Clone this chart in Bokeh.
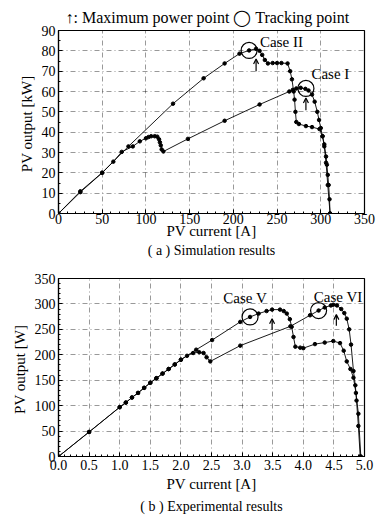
from bokeh.plotting import figure
from bokeh.layouts import column
from bokeh.models import Title, Arrow, OpenHead, Range1d, SingleIntervalTicker, NumeralTickFormatter, Label
from bokeh.embed import file_html
from bokeh.resources import INLINE

# ---------------- data: (a) simulation ----------------
sim_case2_i = [0, 25, 50, 80, 131, 166, 190, 207, 218, 226, 230, 233, 236, 239.5, 245, 250, 255, 262,
               265, 267, 269, 270, 271, 272, 275, 283, 290, 298.5, 302, 304, 306, 307, 308, 309, 310, 310.6]
sim_case2_p = [0, 10.9, 20.1, 33, 54, 66.5, 73.8, 78.6, 80.2, 81, 80, 78, 75.5, 73.8, 74, 74, 74, 73.8,
               70, 66, 60, 56, 50, 45, 44, 43, 42.5, 41.5, 38, 34, 28, 24, 19, 14, 7, 0]

sim_case1_i = [0, 25, 50, 62.7, 72.3, 85, 93, 100, 103, 106, 110, 113, 115, 116, 117, 118, 120, 148, 190, 230,
               264, 268, 272, 277, 282.4, 286, 290, 293, 296, 298, 300, 302, 304, 306, 308, 310.6]
sim_case1_p = [0, 10.5, 20, 25.5, 30.3, 33, 35.5, 37, 37.6, 38, 38, 37.8, 36.5, 35, 33.5, 31.5, 30.5, 36.7,
               45.6, 53.6, 60, 60.8, 61.5, 61.8, 61.3, 60.5, 58.5, 55, 50, 46, 42, 38, 33, 25, 14, 0]

sim_track_i = [218, 283]
sim_track_p = [80.2, 61.5]
sim_mpp_i = [226, 283]
sim_mpp_p = [81, 61.8]
sim_case_labels = ["Case II", "Case I"]
sim_label_i = [255, 311]
sim_label_p = [84.5, 68.5]

# ---------------- data: (b) experiment ----------------
exp_case5_i = [0, 0.5, 1.0, 1.1, 1.2, 1.3, 1.4, 1.5, 1.6, 1.7, 1.8, 1.9, 2.0, 2.25, 2.51, 2.97, 3.13, 3.27,
               3.4, 3.49, 3.62, 3.68, 3.73, 3.78, 3.81, 3.84, 3.87, 3.95, 4.0, 4.19, 4.35, 4.49, 4.6, 4.66,
               4.71, 4.77, 4.82, 4.86, 4.9, 4.94]
exp_case5_p = [0, 48.4, 96.9, 106, 116, 125, 135, 145, 154, 163, 172, 181, 190.5, 210, 229, 264.7, 274.4, 281,
               286, 288.8, 288.8, 286, 281, 270, 255, 235, 216, 214, 213, 221, 224, 227, 223, 208,
               187, 172, 155, 125, 84, 0]

exp_case6_i = [0, 0.5, 1.0, 1.1, 1.2, 1.3, 1.4, 1.5, 1.6, 1.7, 1.8, 1.9, 2.0, 2.1, 2.2, 2.3, 2.37, 2.42, 2.48,
               2.97, 3.79, 4.11, 4.25, 4.35, 4.45, 4.49, 4.55, 4.62, 4.67, 4.71, 4.75, 4.78, 4.82, 4.85,
               4.87, 4.9, 4.93]
exp_case6_p = [0, 48, 97, 106, 116, 125, 135, 145, 154, 163, 172, 181, 190, 198, 203.5, 205, 203.5, 195, 187,
               218, 256, 277.7, 287, 293, 297, 298.4, 297, 290, 282, 271, 250, 220, 168, 140,
               110, 60, 0]

exp_track_i = [3.13, 4.25]
exp_track_p = [274.4, 287]
exp_mpp_i = [3.49, 4.54]
exp_mpp_p = [288.8, 297]
exp_case_labels = ["Case V", "Case VI"]
exp_label_i = [3.05, 4.57]
exp_label_p = [311, 314]

FONT = "Liberation Serif"


def style(p, xint, yint, xminor, yminor, xfmt=None, tick_standoff=2, label_standoff=0):
    p.xaxis.ticker = SingleIntervalTicker(interval=xint, num_minor_ticks=xminor)
    p.yaxis.ticker = SingleIntervalTicker(interval=yint, num_minor_ticks=yminor)
    if xfmt:
        p.xaxis.formatter = NumeralTickFormatter(format=xfmt)
    for ax in (p.xaxis[0], p.yaxis[0]):
        ax.major_label_text_font = FONT
        ax.major_label_text_font_size = "14px"
        ax.major_label_text_color = "black"
        ax.axis_label_text_font = FONT
        ax.axis_label_text_font_size = "15px"
        ax.axis_label_text_font_style = "normal"
        ax.axis_label_text_color = "black"
        ax.axis_line_color = "black"
        ax.axis_line_width = 1.2
        ax.major_tick_in = 4
        ax.major_tick_out = 0
        ax.minor_tick_in = 2
        ax.minor_tick_out = 0
        ax.major_tick_line_color = "black"
        ax.minor_tick_line_color = "black"
    p.xaxis.major_label_standoff = tick_standoff
    p.xaxis.axis_label_standoff = label_standoff
    p.yaxis.major_label_standoff = 3
    p.yaxis.axis_label_standoff = 4
    p.grid.grid_line_color = "black"
    p.grid.grid_line_alpha = 0.5
    p.grid.grid_line_width = 0.8
    p.grid.grid_line_dash = "5 3 1 3"
    p.outline_line_color = "black"
    p.outline_line_width = 1.2
    p.background_fill_color = "white"
    p.border_fill_color = "white"


def curve(p, xs, ys):
    p.line(xs, ys, line_color="black", line_width=0.9)
    p.scatter(xs, ys, marker="circle", size=3.5, fill_color="black", line_color="black")


def annotate(p, ti, tp, mi, mp, li, lp, labels, arrow_len, arrow_gap):
    p.scatter(ti, tp, marker="circle", size=16, fill_color=None, line_color="black", line_width=1.2)
    for x, y in zip(mi, mp):
        p.add_layout(Arrow(end=OpenHead(size=5, line_width=1.2, line_color="black"),
                           x_start=x, y_start=y - arrow_gap - arrow_len, x_end=x, y_end=y - arrow_gap,
                           line_width=1.2, line_color="black"))
    for x, y, t in zip(li, lp, labels):
        p.add_layout(Label(x=x, y=y, text=t, text_font=FONT, text_font_size="15px",
                           text_align="center", text_baseline="middle", text_color="black"))


def caption(text, standoff):
    return Title(text=text, align="center", text_font=FONT, text_font_size="14px",
                 text_font_style="normal", text_color="black", standoff=standoff, offset=0)


# ---------------- figure (a) ----------------
p1 = figure(width=378, height=269, x_range=Range1d(0, 350), y_range=Range1d(0, 90),
            output_backend="svg", toolbar_location=None,
            min_border_left=58, min_border_right=14, min_border_top=30, min_border_bottom=56,
            x_axis_label="PV current [A]", y_axis_label="PV output  [kW]")
p1.title = Title(text="\u2191: Maximum power point  \u25EF  Tracking point", align="center",
                 text_font=FONT, text_font_size="16px", text_font_style="normal", text_color="black",
                 standoff=10)
p1.add_layout(caption("( a ) Simulation results", -1), "below")
style(p1, 50, 10, 5, 2, tick_standoff=0, label_standoff=-4)
curve(p1, sim_case2_i, sim_case2_p)
curve(p1, sim_case1_i, sim_case1_p)
annotate(p1, sim_track_i, sim_track_p, sim_mpp_i, sim_mpp_p, sim_label_i, sim_label_p,
         sim_case_labels, 6, 5)

# ---------------- figure (b) ----------------
p2 = figure(width=378, height=246, x_range=Range1d(0, 5), y_range=Range1d(0, 350),
            output_backend="svg", toolbar_location=None,
            min_border_left=58, min_border_right=14, min_border_top=9, min_border_bottom=56,
            x_axis_label="PV current [A]", y_axis_label="PV output  [W]")
p2.add_layout(caption("( b ) Experimental results", 4), "below")
style(p2, 0.5, 50, 5, 5, "0.0", tick_standoff=3, label_standoff=3)
curve(p2, exp_case5_i, exp_case5_p)
curve(p2, exp_case6_i, exp_case6_p)
annotate(p2, exp_track_i, exp_track_p, exp_mpp_i, exp_mpp_p, exp_label_i, exp_label_p,
         exp_case_labels, 22, 18)

layout = column(p1, p2, spacing=0)
open("out.html", "w").write(file_html(layout, INLINE))
